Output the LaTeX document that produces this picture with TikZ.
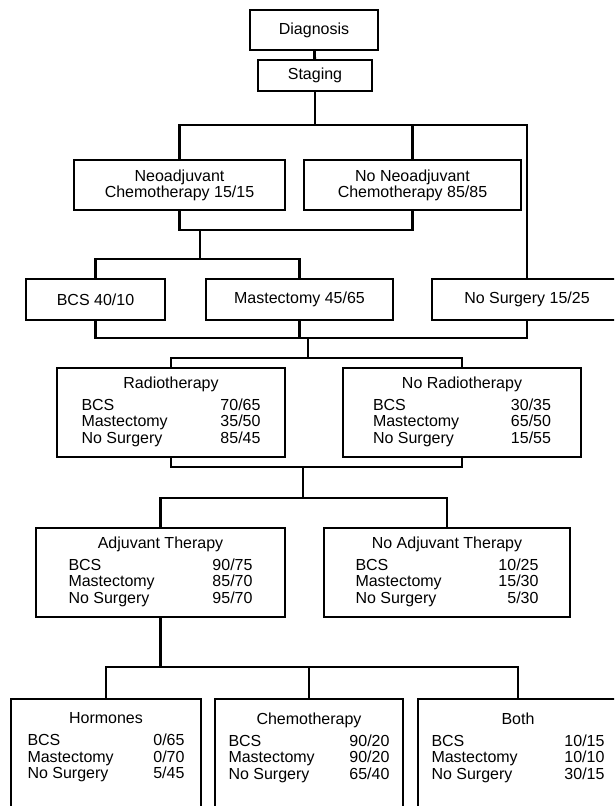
\documentclass[tikz,border=0pt]{standalone}
\usepackage{fontspec}
\setmainfont{Liberation Sans}
\usetikzlibrary{positioning}
\newcommand{\boxfont}{\fontsize{16}{16}\selectfont}
\newcommand{\surgrows}[4]{\begin{tabular*}{#1}[t]{@{}l@{\extracolsep{\fill}}r@{}}BCS&#2\\Mastectomy&#3\\No Surgery&#4\end{tabular*}}

\begin{document}
\begin{tikzpicture}[
			x=1pt,y=-1pt,
			box/.style={draw,line width=1.5pt,align=center,inner sep=0pt,font=\boxfont},
			tbox/.style={box,minimum height=89pt},
			openbox/.style={box,anchor=north,inner ysep=14pt},
			link/.style={line width=2.8pt}
			]
			\useasboundingbox (0,0) rectangle (614,806);
			\clip (0,0) rectangle (614,806);
			\node[box,minimum width=128pt,minimum height=40pt] (diag) at (314,30) {Diagnosis};
			\node[box,minimum width=114pt,minimum height=31pt] (stag) at (315,75.5) {Staging};
			\node[box,minimum width=211pt,minimum height=50pt] (neo) at (179.5,185) {Neoadjuvant\\Chemotherapy 15/15};
			\node[box,minimum width=217pt,minimum height=50pt] (noneo) at (412.5,185) {No Neoadjuvant\\Chemotherapy 85/85};
			\node[box,minimum width=139pt,minimum height=41pt] (bcs) at (95.5,299.5) {BCS 40/10};
			\node[box,minimum width=187pt,minimum height=41pt] (mast) at (299.5,299.5) {Mastectomy 45/65};
			\node[box,minimum width=190pt,minimum height=41pt] (nosurg) at (527,299.5) {No Surgery 15/25};
			\node[tbox,minimum width=228pt] (radio) at (171,412.5) {Radiotherapy\\[6pt]\surgrows{179pt}{70/65}{35/50}{85/45}};
			\node[tbox,minimum width=238pt] (noradio) at (462,412.5) {No Radiotherapy\\[6pt]\surgrows{178pt}{30/35}{65/50}{15/55}};
			\node[tbox,minimum width=249pt] (adj) at (160.5,572.5) {Adjuvant Therapy\\[6pt]\surgrows{184pt}{90/75}{85/70}{95/70}};
			\node[tbox,minimum width=246pt] (noadj) at (447,572.5) {No Adjuvant Therapy\\[6pt]\surgrows{183pt}{10/25}{15/30}{5/30}};
			\node[openbox,minimum width=190pt] (horm) at (106,698) {Hormones\\[6pt]\surgrows{157pt}{0/65}{0/70}{5/45}\\\rule{0pt}{80pt}};
			\node[openbox,minimum width=188pt] (chemo) at (309,698) {Chemotherapy\\[6pt]\surgrows{161pt}{90/20}{90/20}{65/40}\\\rule{0pt}{80pt}};
			\node[openbox,minimum width=200pt] (both) at (518,698) {Both\\[6pt]\surgrows{173pt}{10/15}{10/10}{30/15}\\\rule{0pt}{80pt}};
			\coordinate (j1) at (315,125);
			\coordinate (j2) at (200,230);
			\coordinate (j3) at (200,259);
			\coordinate (j4) at (308,338);
			\coordinate (j5) at (308,358);
			\coordinate (j6) at (303,467);
			\coordinate (j7) at (303,498);
			\coordinate (j8) at (309,667);
			\draw[link] (diag)--(stag);
			\draw[link] (stag)--(j1);
			\draw[link] (neo) |- (j1) -| (nosurg);
			\draw[link] (noneo)--(noneo |- j1);
			\draw[link] (neo) |- (noneo |- j2)--(noneo);
			\draw[link] (j2)--(j3);
			\draw[link] (bcs) |- (j3) -| (mast);
			\draw[link] (bcs) |- (nosurg |- j4)--(nosurg);
			\draw[link] (mast)--(mast |- j4);
			\draw[link] (j4)--(j5);
			\draw[link] (radio) |- (j5) -| (noradio);
			\draw[link] (radio) |- (noradio |- j6)--(noradio);
			\draw[link] (j6)--(j7);
			\draw[link] (adj) |- (j7) -| (noadj);
			\draw[link] (adj)--(adj |- j8);
			\draw[link] (horm) |- (j8) -| (both);
			\draw[link] (chemo)--(chemo |- j8);
		\end{tikzpicture}
\end{document}
